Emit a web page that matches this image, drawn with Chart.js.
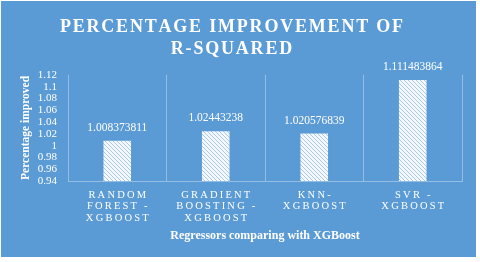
<!DOCTYPE html>
<html>
<head>
<meta charset="utf-8">
<script src="https://cdn.jsdelivr.net/npm/chart.js@4"></script>
<style>
html,body{margin:0;padding:0;background:#ffffff;}
#wrap{position:absolute;left:1px;top:1px;width:475px;height:256px;background:#5B9BD5;}
</style>
</head>
<body>
<div id="wrap"><canvas id="c" width="475" height="256"></canvas></div>
<script>
const categories = [
  ["RANDOM", "FOREST -", "XGBOOST"],
  ["GRADIENT", "BOOSTING -", "XGBOOST"],
  ["KNN-", "XGBOOST"],
  ["SVR -", "XGBOOST"]
];
const improvement = [1.008373811, 1.02443238, 1.020576839, 1.111483864];
const yTicks = [0.94, 0.96, 0.98, 1, 1.02, 1.04, 1.06, 1.08, 1.1, 1.12];
const titleLines = ["PERCENTAGE IMPROVEMENT OF", "R-SQUARED"];

const SERIF = "'Liberation Serif', 'Times New Roman', serif";
const WHITE = "#ffffff";
const GRID = "rgba(255,255,255,0.35)";

function hatch() {
  const s = 4;
  const c = document.createElement('canvas');
  c.width = s; c.height = s;
  const x = c.getContext('2d');
  x.fillStyle = '#f4f8fd';
  x.fillRect(0, 0, s, s);
  x.strokeStyle = '#a9cbeb';
  x.lineWidth = 1;
  x.beginPath();
  x.moveTo(0, 0); x.lineTo(s, s);
  x.moveTo(-1, s - 1); x.lineTo(1, s + 1);
  x.moveTo(s - 1, -1); x.lineTo(s + 1, 1);
  x.stroke();
  return x.createPattern(c, 'repeat');
}

// draws text one character at a time with extra spacing between letters
function withSpacing(ctx, spacing, fn) {
  const orig = ctx.fillText;
  ctx.fillText = function (text, x, y, maxW) {
    const str = String(text);
    const align = this.textAlign;
    const chars = Array.from(str);
    const widths = chars.map(ch => this.measureText(ch).width);
    const total = widths.reduce((a, b) => a + b, 0) + spacing * (chars.length - 1);
    let sx = x;
    if (align === 'center') sx = x - total / 2;
    else if (align === 'right' || align === 'end') sx = x - total;
    this.textAlign = 'left';
    chars.forEach((ch, i) => { orig.call(this, ch, sx, y); sx += widths[i] + spacing; });
    this.textAlign = align;
  };
  try { fn(); } finally { ctx.fillText = orig; }
}

const spacingPlugin = {
  id: 'spacing',
  beforeDraw(chart) {
    if (chart.$patched) return;
    chart.$patched = true;
    const ctx = chart.ctx;
    const tb = chart.titleBlock;
    if (tb) {
      const od = tb.draw;
      tb.draw = function (a) { withSpacing(ctx, 1.8, () => od.call(this, a)); };
    }
    const xs = chart.scales.x;
    const ol = xs.drawLabels;
    xs.drawLabels = function (a) { withSpacing(ctx, 2.2, () => ol.call(this, a)); };
  }
};

const valueLabels = {
  id: 'valueLabels',
  afterDatasetsDraw(chart) {
    const ctx = chart.ctx;
    const meta = chart.getDatasetMeta(0);
    ctx.save();
    ctx.fillStyle = WHITE;
    ctx.font = "11.5px " + SERIF;
    ctx.textAlign = 'center';
    ctx.textBaseline = 'middle';
    meta.data.forEach((bar, i) => {
      ctx.fillText(String(chart.data.datasets[0].data[i]), bar.x, bar.y - 13);
    });
    ctx.restore();
  }
};

new Chart(document.getElementById('c'), {
  type: 'bar',
  data: {
    labels: categories,
    datasets: [{
      data: improvement,
      backgroundColor: hatch(),
      borderWidth: 0,
      categoryPercentage: 1,
      barPercentage: 0.28
    }]
  },
  options: {
    responsive: false,
    animation: false,
    events: [],
    layout: { padding: { left: 0, right: 14, top: 0, bottom: 0 } },
    plugins: {
      legend: { display: false },
      tooltip: { enabled: false },
      title: {
        display: true,
        text: titleLines,
        color: WHITE,
        font: { family: SERIF, size: 18, weight: 'bold', lineHeight: 1.22 },
        padding: { top: 15, bottom: 15 }
      }
    },
    scales: {
      x: {
        grid: { display: true, offset: true, color: GRID, drawTicks: false, lineWidth: 1 },
        border: { display: true, color: GRID },
        ticks: {
          color: WHITE, autoSkip: false, maxRotation: 0, padding: 8,
          font: { family: SERIF, size: 10.5, lineHeight: 1.12 }
        },
        title: {
          display: true, text: 'Regressors comparing with XGBoost', color: WHITE,
          font: { family: SERIF, size: 12, weight: 'bold' }, padding: { top: 4, bottom: 14 }
        },
        afterFit(s) { s.height = 76; }
      },
      y: {
        min: 0.94, max: 1.12,
        afterBuildTicks(s) { s.ticks = yTicks.map(v => ({ value: v })); },
        grid: { display: false, drawTicks: false },
        border: { display: false },
        ticks: {
          color: WHITE, padding: 11, autoSkip: false,
          font: { family: SERIF, size: 11 },
          callback: v => String(Math.round(v * 100) / 100)
        },
        title: {
          display: true, text: 'Percentage improved', color: WHITE,
          font: { family: SERIF, size: 11.5, weight: 'bold' }, padding: { top: 18, bottom: 4 }
        },
        afterFit(s) { s.width = 67; }
      }
    }
  },
  plugins: [spacingPlugin, valueLabels]
});
</script>
</body>
</html>
